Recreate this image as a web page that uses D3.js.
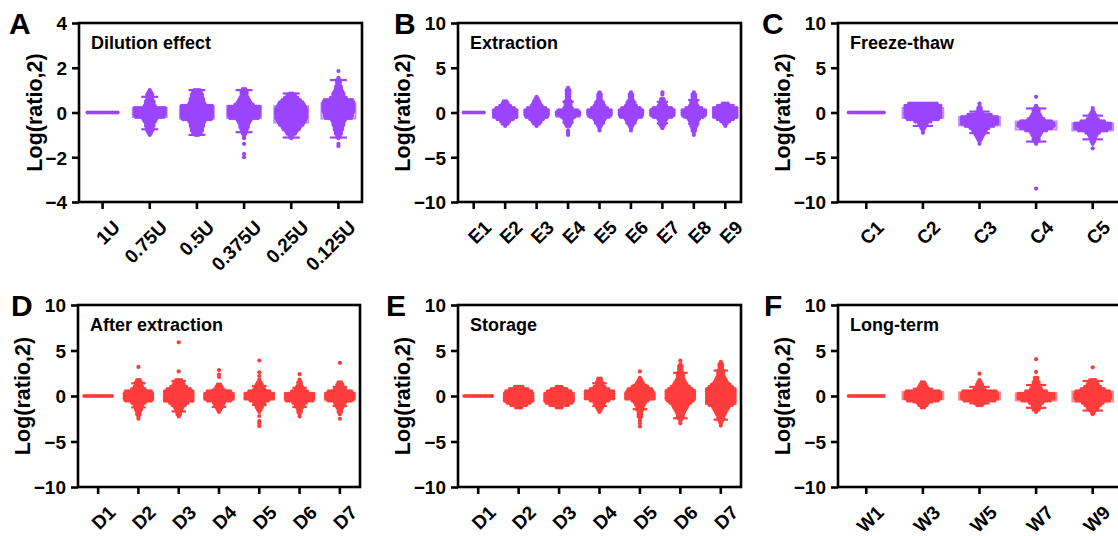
<!DOCTYPE html>
<html>
<head>
<meta charset="utf-8">
<script src="https://cdn.jsdelivr.net/npm/d3@7"></script>
<style>
  html, body { margin: 0; padding: 0; background: #fff; }
  svg { display: block; font-family: "Liberation Sans", Arial, sans-serif; }
</style>
</head>
<body>
<svg id="fig" width="1118" height="536"></svg>
<script>
// ---- data -------------------------------------------------------------
// Each group is a swarm described as [value, number of points at that value];
// boxes are [q1, median, q3, lower whisker, upper whisker].
const ticksA = [-4, -2, 0, 2, 4];
const ticksWide = [-10, -5, 0, 5, 10];

const catsA = ["1U", "0.75U", "0.5U", "0.375U", "0.25U", "0.125U"];
const levelsA = [
  [[0, 13]],
  [[1.0,1],[0.9,2],[0.8,3],[0.7,3],[0.6,3],[0.5,4],[0.4,4],[0.3,5],[0.2,13],[0.1,13],[0,13],[-0.1,13],[-0.2,12],[-0.3,6],[-0.4,5],[-0.5,4],[-0.6,4],[-0.7,3],[-0.8,3],[-0.9,2],[-1.0,1]],
  [[1.0,3],[0.9,4],[0.8,5],[0.7,5],[0.6,6],[0.5,6],[0.4,7],[0.3,13],[0.2,13],[0.1,13],[0,13],[-0.1,13],[-0.2,13],[-0.3,12],[-0.4,7],[-0.5,6],[-0.6,6],[-0.7,5],[-0.8,5],[-0.9,4],[-1.0,2]],
  [[1.05,2],[0.95,3],[0.85,3],[0.75,3],[0.65,4],[0.55,5],[0.45,6],[0.35,8],[0.25,13],[0.15,13],[0.05,13],[-0.05,13],[-0.15,13],[-0.25,12],[-0.35,6],[-0.45,5],[-0.55,4],[-0.65,4],[-0.75,3],[-0.85,2],[-0.95,2],[-1.05,1],[-1.15,1],[-1.4,1],[-1.85,1],[-2.0,1]],
  [[0.85,2],[0.75,4],[0.65,6],[0.55,8],[0.45,10],[0.35,11],[0.25,12],[0.15,13],[0.05,13],[-0.05,13],[-0.15,13],[-0.25,13],[-0.35,12],[-0.45,11],[-0.55,10],[-0.65,8],[-0.75,7],[-0.85,5],[-0.95,4],[-1.05,2],[-1.15,1]],
  [[1.85,1],[1.55,1],[1.45,2],[1.35,2],[1.25,2],[1.15,3],[1.05,3],[0.95,4],[0.85,5],[0.75,5],[0.65,7],[0.55,12],[0.45,13],[0.35,13],[0.25,13],[0.15,13],[0.05,13],[-0.05,12],[-0.15,12],[-0.25,11],[-0.35,6],[-0.45,5],[-0.55,5],[-0.65,4],[-0.75,4],[-0.85,3],[-0.95,3],[-1.05,2],[-1.15,1],[-1.4,1],[-1.5,1]]
];
const boxesA = [[0,0,0,0,0],[-0.2,0,0.2,-0.75,0.7],[-0.28,0,0.28,-1.0,1.0],[-0.25,0,0.3,-0.88,1.0],[-0.45,-0.05,0.28,-1.12,0.85],[-0.27,0.1,0.4,-1.12,1.45]];

const catsB = ["E1", "E2", "E3", "E4", "E5", "E6", "E7", "E8", "E9"];
const levelsB = [
  [[0, 9]],
  [[1.25,2],[1.0,3],[0.75,5],[0.5,8],[0.25,10],[0,10],[-0.25,10],[-0.5,10],[-0.75,7],[-1.0,4],[-1.25,3],[-1.5,1]],
  [[1.75,1],[1.5,2],[1.25,3],[1.0,3],[0.75,5],[0.5,8],[0.25,10],[0,10],[-0.25,10],[-0.5,9],[-0.75,6],[-1.0,4],[-1.25,3],[-1.5,1]],
  [[2.75,1],[2.5,2],[2.25,2],[2.0,2],[1.75,2],[1.5,2],[1.25,3],[1.0,3],[0.75,3],[0.5,4],[0.25,8],[0,10],[-0.25,10],[-0.5,6],[-0.75,4],[-1.0,3],[-1.25,3],[-1.5,2],[-2.0,1],[-2.25,1],[-2.5,1]],
  [[2.25,1],[2.0,2],[1.75,2],[1.5,2],[1.25,3],[1.0,3],[0.75,5],[0.5,7],[0.25,10],[0,10],[-0.25,10],[-0.5,8],[-0.75,5],[-1.0,4],[-1.25,3],[-1.5,2],[-1.75,1],[-2.0,1]],
  [[2.25,1],[2.0,2],[1.75,2],[1.5,2],[1.25,3],[1.0,3],[0.75,5],[0.5,8],[0.25,10],[0,10],[-0.25,10],[-0.5,9],[-0.75,5],[-1.0,4],[-1.25,3],[-1.5,2],[-1.75,1],[-2.0,1]],
  [[2.25,1],[2.0,1],[1.5,2],[1.25,2],[1.0,3],[0.75,4],[0.5,8],[0.25,10],[0,10],[-0.25,10],[-0.5,8],[-0.75,4],[-1.0,3],[-1.25,3],[-1.5,2],[-1.75,1]],
  [[2.25,1],[2.0,2],[1.75,2],[1.5,2],[1.25,3],[1.0,3],[0.75,4],[0.5,7],[0.25,10],[0,10],[-0.25,10],[-0.5,8],[-0.75,5],[-1.0,4],[-1.25,3],[-1.5,3],[-1.75,2],[-2.0,2],[-2.25,1],[-2.5,1]],
  [[1.0,3],[0.75,7],[0.5,10],[0.25,10],[0,10],[-0.25,10],[-0.5,10],[-0.75,7],[-1.0,4],[-1.25,2],[-1.5,1]]
];
const boxesB = [[0,0,0,0,0],[-0.5,-0.2,0.2,-1.0,0.8],[-0.5,-0.1,0.3,-1.1,1.0],[-0.5,-0.1,0.3,-1.1,1.2],[-0.5,-0.1,0.25,-1.2,1.1],[-0.5,-0.1,0.25,-1.2,1.1],[-0.45,0,0.4,-1.2,1.2],[-0.5,-0.1,0.3,-1.3,1.4],[-0.4,0,0.4,-1.0,0.8]];

const catsC = ["C1", "C2", "C3", "C4", "C5"];
const levelsC = [
  [[0, 15]],
  [[1.0,12],[0.75,15],[0.5,15],[0.25,15],[0,15],[-0.25,15],[-0.5,15],[-0.75,13],[-1.0,7],[-1.25,4],[-1.5,3],[-1.75,2],[-2.0,1],[-2.25,1]],
  [[1.0,1],[0.75,1],[0.5,2],[0.25,2],[0,3],[-0.25,10],[-0.5,15],[-0.75,15],[-1.0,15],[-1.25,15],[-1.5,12],[-1.75,8],[-2.0,6],[-2.25,5],[-2.5,4],[-2.75,3],[-3.0,2],[-3.25,1],[-3.5,1]],
  [[1.75,1],[0.75,1],[0.5,2],[0.25,3],[0,3],[-0.25,4],[-0.5,5],[-0.75,7],[-1.0,13],[-1.25,15],[-1.5,15],[-1.75,13],[-2.0,9],[-2.25,5],[-2.5,4],[-2.75,3],[-3.0,3],[-3.25,2],[-3.5,1],[-8.5,1]],
  [[0.5,1],[0.25,1],[0,2],[-0.25,3],[-0.5,3],[-0.75,5],[-1.0,10],[-1.25,15],[-1.5,15],[-1.75,15],[-2.0,12],[-2.25,6],[-2.5,4],[-2.75,3],[-3.0,2],[-3.25,2],[-3.5,1],[-4.0,1]]
];
const boxesC = [[0,0,0,0,0],[-0.6,-0.1,0.5,-1.5,0.9],[-1.45,-1.0,-0.5,-2.3,0.1],[-1.9,-1.45,-1.0,-3.25,0.45],[-2.0,-1.6,-1.2,-3.0,-0.35]];

const catsD = ["D1", "D2", "D3", "D4", "D5", "D6", "D7"];
const levelsD = [
  [[0, 12]],
  [[3.2,1],[1.75,2],[1.5,3],[1.25,3],[1.0,4],[0.75,6],[0.5,11],[0.25,12],[0,12],[-0.25,12],[-0.5,11],[-0.75,6],[-1.0,4],[-1.25,3],[-1.5,3],[-1.75,2],[-2.0,2],[-2.25,1],[-2.5,1]],
  [[5.9,1],[2.7,1],[1.75,3],[1.5,4],[1.25,5],[1.0,7],[0.75,10],[0.5,12],[0.25,12],[0,12],[-0.25,12],[-0.5,12],[-0.75,8],[-1.0,6],[-1.25,4],[-1.5,3],[-1.75,2],[-2.0,2],[-2.25,1]],
  [[2.85,1],[2.35,1],[2.1,1],[1.25,2],[1.0,3],[0.75,4],[0.5,10],[0.25,12],[0,12],[-0.25,12],[-0.5,10],[-0.75,5],[-1.0,4],[-1.25,3],[-1.5,2],[-1.75,1]],
  [[3.9,1],[2.6,1],[2.2,1],[1.8,1],[1.5,2],[1.25,3],[1.0,3],[0.75,5],[0.5,9],[0.25,12],[0,12],[-0.25,12],[-0.5,8],[-0.75,5],[-1.0,3],[-1.25,3],[-1.5,2],[-1.75,1],[-2.2,1],[-2.75,1],[-3.0,1],[-3.3,1]],
  [[2.4,1],[1.8,1],[1.5,2],[1.25,2],[1.0,3],[0.75,4],[0.5,7],[0.25,12],[0,12],[-0.25,12],[-0.5,11],[-0.75,6],[-1.0,4],[-1.25,3],[-1.5,2],[-1.75,2],[-2.0,1],[-2.25,1]],
  [[3.65,1],[1.5,2],[1.25,3],[1.0,3],[0.75,5],[0.5,10],[0.25,12],[0,12],[-0.25,12],[-0.5,10],[-0.75,5],[-1.0,4],[-1.25,3],[-1.5,2],[-1.75,2],[-2.0,1],[-2.5,1]]
];
const boxesD = [[0,0,0,0,0],[-0.5,-0.1,0.4,-1.25,1.4],[-0.6,-0.1,0.5,-1.7,1.65],[-0.45,-0.1,0.3,-1.2,0.7],[-0.4,0,0.35,-1.0,1.1],[-0.55,-0.15,0.25,-1.2,0.9],[-0.5,-0.1,0.35,-1.1,1.0]];

const catsE = ["D1", "D2", "D3", "D4", "D5", "D6", "D7"];
const levelsE = [
  [[0, 12]],
  [[1.0,4],[0.75,8],[0.5,11],[0.25,12],[0,12],[-0.25,12],[-0.5,12],[-0.75,10],[-1.0,7],[-1.25,3]],
  [[1.0,3],[0.75,7],[0.5,10],[0.25,12],[0,12],[-0.25,12],[-0.5,12],[-0.75,11],[-1.0,8],[-1.25,3]],
  [[1.9,2],[1.75,2],[1.5,3],[1.25,3],[1.0,5],[0.75,8],[0.5,12],[0.25,12],[0,12],[-0.25,12],[-0.5,8],[-0.75,5],[-1.0,4],[-1.25,3],[-1.5,2],[-1.75,1]],
  [[2.7,1],[2.0,1],[1.75,2],[1.5,3],[1.25,4],[1.0,7],[0.75,10],[0.5,11],[0.25,12],[0,12],[-0.25,12],[-0.5,7],[-0.75,5],[-1.0,4],[-1.25,3],[-1.5,3],[-1.75,2],[-2.0,2],[-2.25,2],[-2.5,1],[-2.75,1],[-3.0,1],[-3.35,1]],
  [[3.9,1],[3.5,1],[3.25,2],[3.0,2],[2.75,2],[2.5,3],[2.25,3],[2.0,3],[1.75,4],[1.5,5],[1.25,6],[1.0,8],[0.75,10],[0.5,12],[0.25,12],[0,12],[-0.25,12],[-0.5,11],[-0.75,9],[-1.0,7],[-1.25,6],[-1.5,5],[-1.75,4],[-2.0,3],[-2.25,3],[-2.5,2],[-2.75,1],[-3.0,1]],
  [[3.75,1],[3.5,2],[3.25,2],[3.0,2],[2.75,3],[2.5,3],[2.25,3],[2.0,4],[1.75,5],[1.5,6],[1.25,8],[1.0,10],[0.75,12],[0.5,12],[0.25,12],[0,12],[-0.25,12],[-0.5,12],[-0.75,12],[-1.0,10],[-1.25,7],[-1.5,6],[-1.75,5],[-2.0,4],[-2.25,3],[-2.5,3],[-2.75,2],[-3.0,1],[-3.25,1]]
];
const boxesE = [[0,0,0,0,0],[-0.6,-0.2,0.3,-1.0,0.8],[-0.6,-0.2,0.3,-1.0,0.8],[-0.35,0.05,0.5,-1.1,1.4],[-0.4,0,0.4,-1.45,1.2],[-0.45,0.05,0.7,-2.45,2.55],[-0.9,-0.1,0.75,-2.6,2.8]];

const catsF = ["W1", "W3", "W5", "W7", "W9"];
const levelsF = [
  [[0, 15]],
  [[1.5,2],[1.25,3],[1.0,4],[0.75,5],[0.5,14],[0.25,15],[0,15],[-0.25,15],[-0.5,13],[-0.75,5],[-1.0,4],[-1.25,2]],
  [[2.45,1],[1.75,1],[1.5,2],[1.25,3],[1.0,3],[0.75,5],[0.5,14],[0.25,15],[0,15],[-0.25,15],[-0.5,13],[-0.75,5],[-1.0,3]],
  [[4.05,1],[2.65,1],[2.0,2],[1.75,2],[1.5,3],[1.25,3],[1.0,4],[0.75,5],[0.5,9],[0.25,15],[0,15],[-0.25,15],[-0.5,12],[-0.75,6],[-1.0,4],[-1.25,3],[-1.5,3],[-1.75,1]],
  [[3.15,1],[1.75,3],[1.5,4],[1.25,5],[1.0,7],[0.75,10],[0.5,14],[0.25,15],[0,15],[-0.25,15],[-0.5,14],[-0.75,9],[-1.0,7],[-1.25,5],[-1.5,4],[-1.75,2],[-2.0,1]]
];
const boxesF = [[0,0,0,0,0],[-0.35,0.05,0.45,-0.7,0.8],[-0.4,0,0.4,-0.8,1.0],[-0.5,-0.05,0.3,-1.3,1.2],[-0.6,0,0.5,-1.6,1.65]];

// ---- layout -------------------------------------------------------------
const PURPLE = "#9b45ff";
const RED = "#ff3d3d";
const panels = [
  { letter: "A", title: "Dilution effect",  cats: catsA, levels: levelsA, boxes: boxesA, ticks: ticksA,    color: PURPLE, x0: 79,  x1: 362,  y0: 23,  y1: 202, lx: 9,   titleDx: 45 },
  { letter: "B", title: "Extraction",       cats: catsB, levels: levelsB, boxes: boxesB, ticks: ticksWide, color: PURPLE, x0: 458, x1: 741,  y0: 23,  y1: 202, lx: 394, titleDx: 56 },
  { letter: "C", title: "Freeze-thaw",      cats: catsC, levels: levelsC, boxes: boxesC, ticks: ticksWide, color: PURPLE, x0: 838, x1: 1121, y0: 23,  y1: 202, lx: 762, titleDx: 56 },
  { letter: "D", title: "After extraction", cats: catsD, levels: levelsD, boxes: boxesD, ticks: ticksWide, color: RED,    x0: 78,  x1: 360,  y0: 305, y1: 487, lx: 11,  titleDx: 56 },
  { letter: "E", title: "Storage",          cats: catsE, levels: levelsE, boxes: boxesE, ticks: ticksWide, color: RED,    x0: 458, x1: 741,  y0: 305, y1: 487, lx: 386, titleDx: 56 },
  { letter: "F", title: "Long-term",        cats: catsF, levels: levelsF, boxes: boxesF, ticks: ticksWide, color: RED,    x0: 838, x1: 1121, y0: 305, y1: 487, lx: 764, titleDx: 56 }
];

const svg = d3.select("#fig");
svg.append("rect").attr("width", 1118).attr("height", 536).attr("fill", "#fff");

const DOT_R = 2.1;
const DOT_DX = 2.5;

panels.forEach(p => {
  const g = svg.append("g");
  const x = d3.scaleBand().domain(p.cats).range([p.x0, p.x1]);
  const y = d3.scaleLinear().domain(d3.extent(p.ticks)).range([p.y1, p.y0]);
  const boxW = x.bandwidth() * 0.72;
  const capW = boxW * 0.5;
  const light = d3.interpolateRgb(p.color, "#ffffff")(0.4);

  // boxes and whisker stems sit behind the points
  p.cats.forEach((c, i) => {
    const cx = x(c) + x.bandwidth() / 2;
    const [q1, med, q3, lo, hi] = p.boxes[i];
    g.append("line").attr("x1", cx).attr("x2", cx).attr("y1", y(hi)).attr("y2", y(lo))
      .attr("stroke", p.color).attr("stroke-width", 2);
    if (q3 > q1) {
      g.append("rect").attr("x", cx - boxW / 2).attr("y", y(q3))
        .attr("width", boxW).attr("height", y(q1) - y(q3))
        .attr("fill", "none").attr("stroke", light).attr("stroke-width", 2);
      g.append("line").attr("x1", cx - boxW / 2).attr("x2", cx + boxW / 2)
        .attr("y1", y(med)).attr("y2", y(med))
        .attr("stroke", light).attr("stroke-width", 2);
    }
  });

  // points
  p.cats.forEach((c, i) => {
    const cx = x(c) + x.bandwidth() / 2;
    const pts = [];
    p.levels[i].forEach(([v, n]) => {
      for (let k = 0; k < n; k++) pts.push({ v, off: (k - (n - 1) / 2) * DOT_DX });
    });
    g.append("g").selectAll("circle").data(pts).join("circle")
      .attr("cx", d => cx + d.off)
      .attr("cy", d => y(d.v))
      .attr("r", DOT_R)
      .attr("fill", p.color);
  });

  // whisker caps
  p.cats.forEach((c, i) => {
    const cx = x(c) + x.bandwidth() / 2;
    const [q1, , q3, lo, hi] = p.boxes[i];
    [lo, hi].forEach(w => {
      if (w !== q1 && w !== q3) {
        g.append("line").attr("x1", cx - capW / 2).attr("x2", cx + capW / 2)
          .attr("y1", y(w)).attr("y2", y(w))
          .attr("stroke", p.color).attr("stroke-width", 2.2);
      }
    });
  });

  // frame
  g.append("rect").attr("x", p.x0).attr("y", p.y0)
    .attr("width", p.x1 - p.x0).attr("height", p.y1 - p.y0)
    .attr("fill", "none").attr("stroke", "#000").attr("stroke-width", 2.6);

  // y axis
  const ya = g.append("g").attr("transform", `translate(${p.x0},0)`)
    .call(d3.axisLeft(y).tickValues(p.ticks).tickSize(7).tickPadding(5).tickFormat(d3.format("d")));
  ya.select(".domain").remove();
  ya.selectAll(".tick line").attr("stroke", "#000").attr("stroke-width", 2.6);
  ya.selectAll(".tick text").attr("fill", "#000")
    .style("font-size", "19px").style("font-weight", "bold").attr("dy", "0.36em");

  // x axis
  const xa = g.append("g").attr("transform", `translate(0,${p.y1})`)
    .call(d3.axisBottom(x).tickSize(7).tickPadding(0));
  xa.select(".domain").remove();
  xa.selectAll(".tick line").attr("stroke", "#000").attr("stroke-width", 2.6);
  xa.selectAll(".tick text").attr("fill", "#000")
    .style("font-size", "19px").style("font-weight", "bold")
    .attr("text-anchor", "end")
    .attr("transform", "translate(9,17) rotate(-45)")
    .attr("dy", "0.35em");

  // axis title
  const ymid = (p.y0 + p.y1) / 2;
  g.append("text")
    .attr("transform", `translate(${p.x0 - p.titleDx},${ymid}) rotate(-90)`)
    .attr("text-anchor", "middle").attr("dy", "0.36em")
    .style("font-size", "21.5px").style("font-weight", "bold")
    .text("Log(ratio,2)");

  // inner panel title
  g.append("text").attr("x", p.x0 + 12).attr("y", p.y0 + 26)
    .style("font-size", "18px").style("font-weight", "bold")
    .text(p.title);

  // panel letter
  g.append("text").attr("x", p.lx).attr("y", p.y0 + 11)
    .style("font-size", "30px").style("font-weight", "bold")
    .text(p.letter);
});
</script>
</body>
</html>
